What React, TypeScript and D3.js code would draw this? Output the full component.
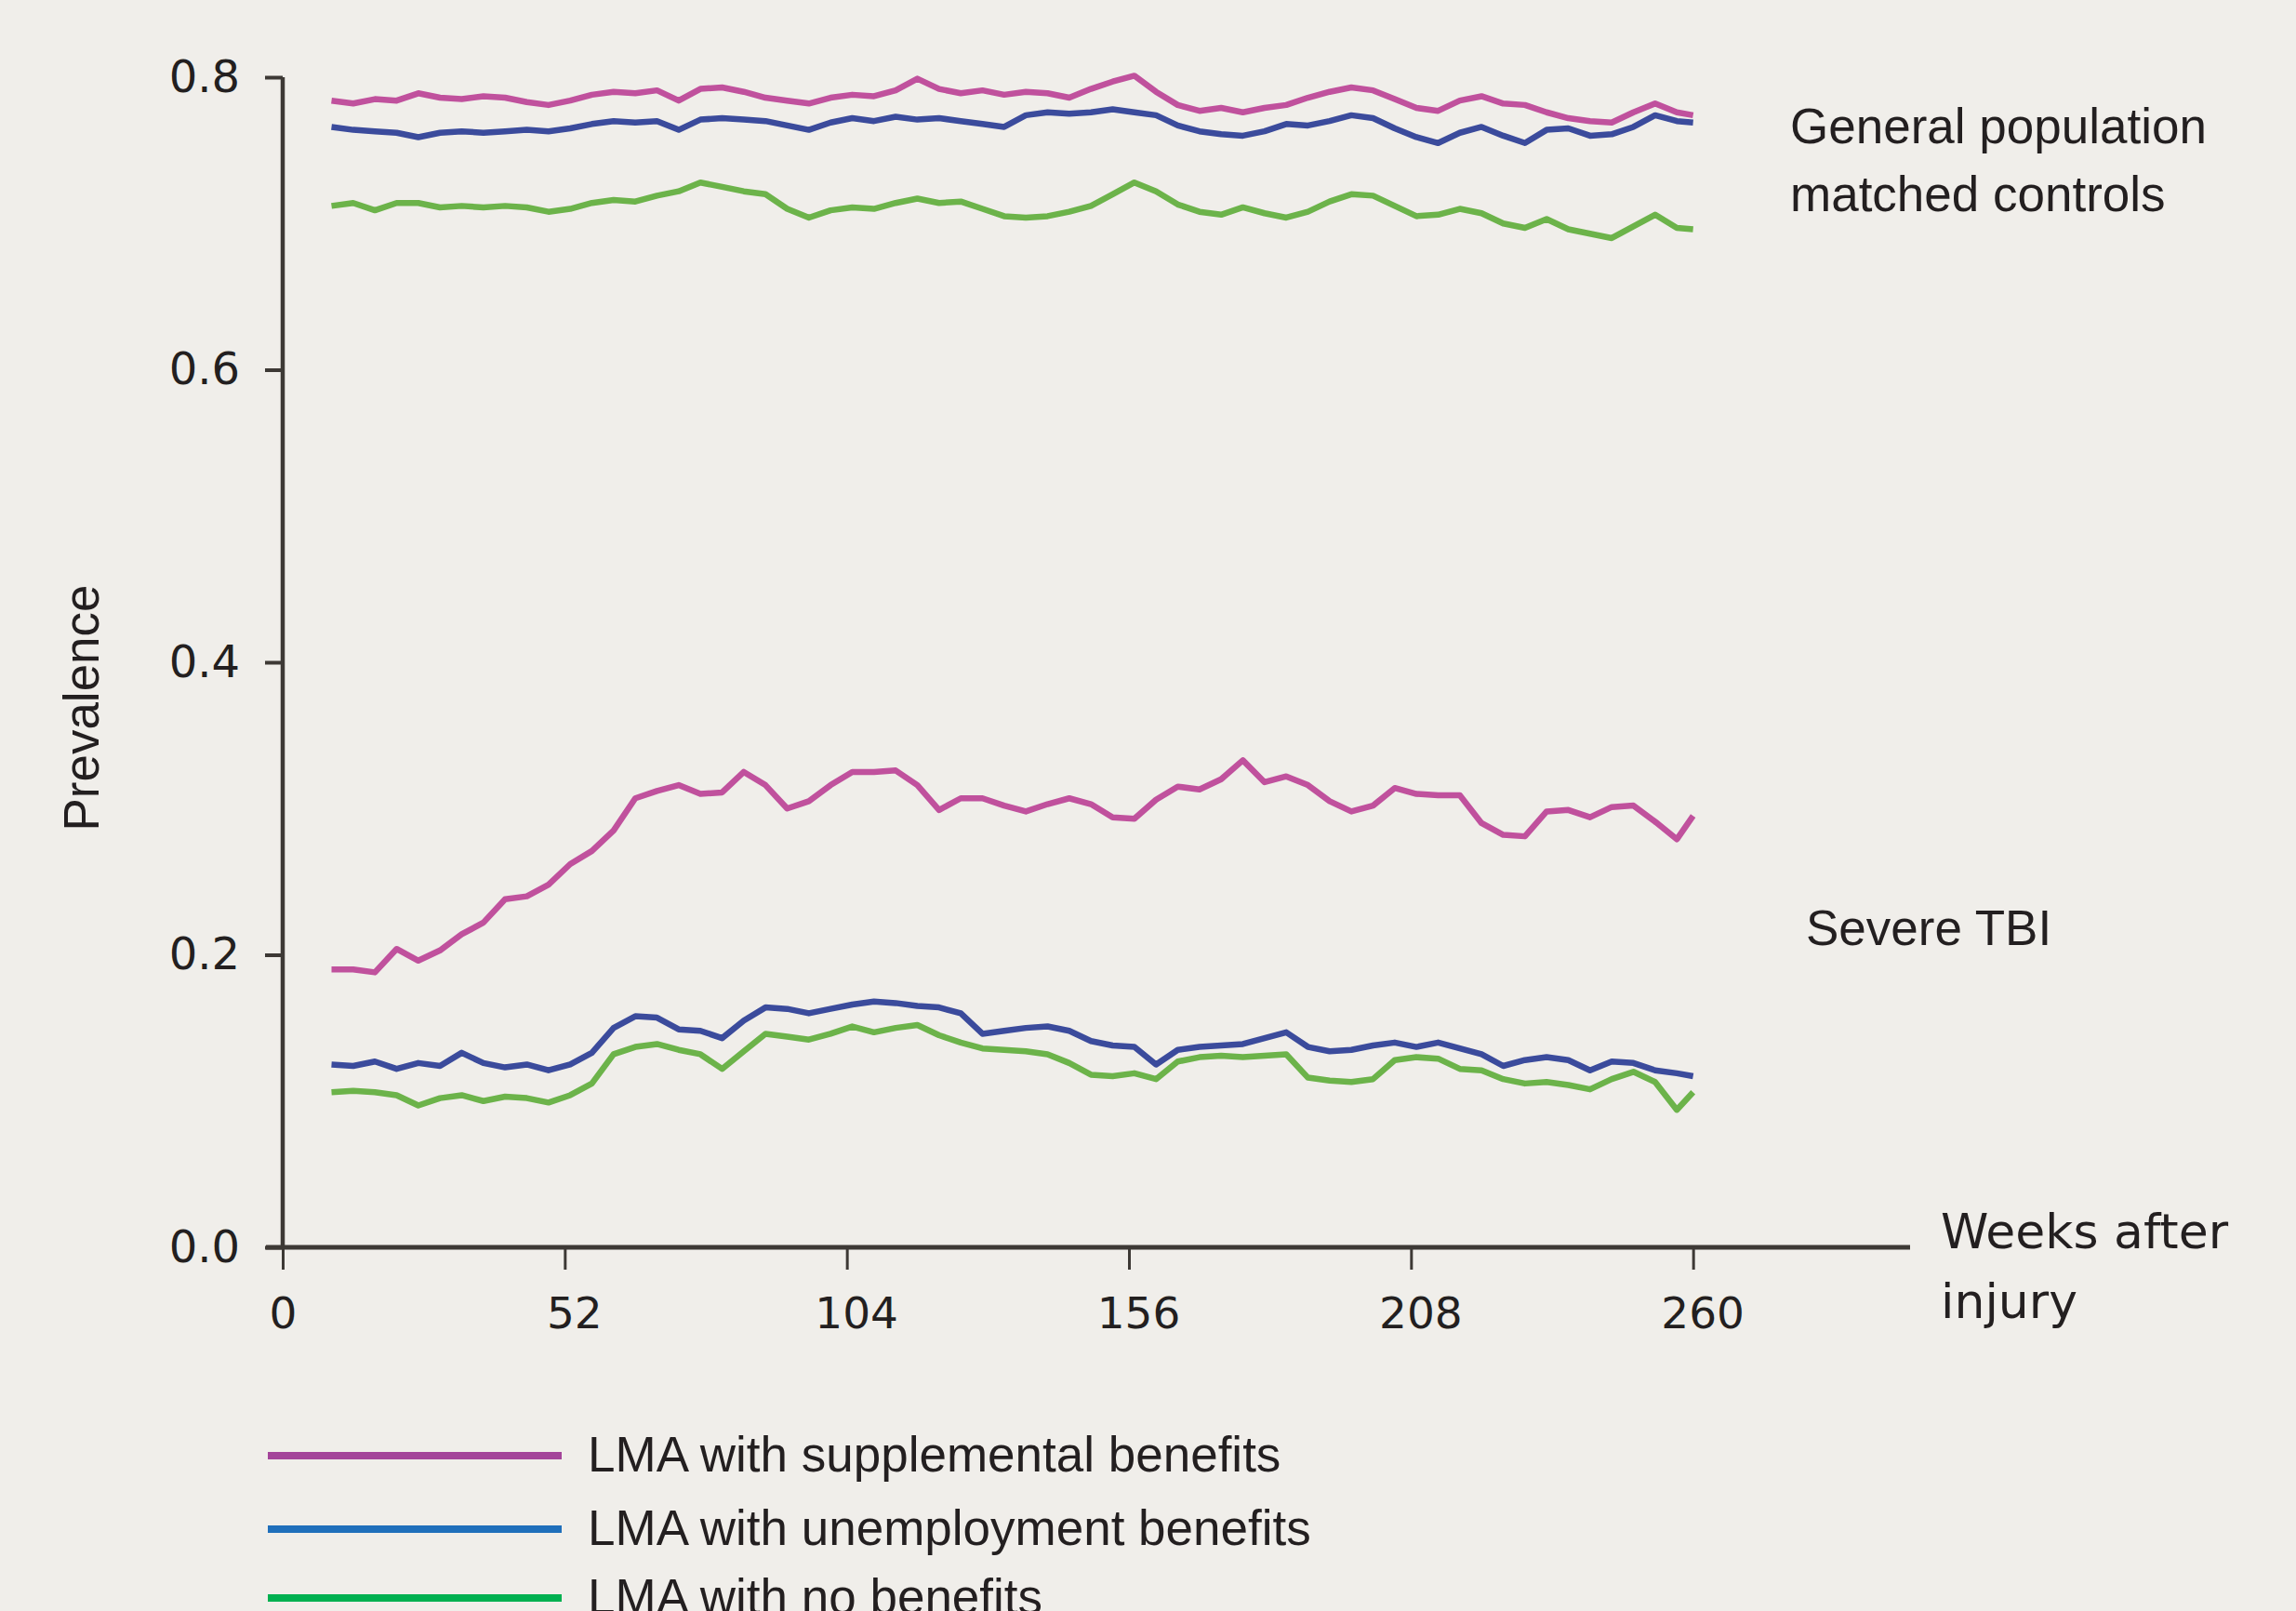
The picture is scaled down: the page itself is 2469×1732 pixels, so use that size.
import * as d3 from 'd3';
import { useEffect, useRef } from 'react';

// weeks after injury at which the curves were read
const weeks = [9, 13, 17, 21, 25, 29, 33, 37, 41, 45, 49, 53, 57, 61, 65, 69, 73, 77, 81, 85, 89, 93, 97, 101, 105, 109, 113, 117, 121, 125, 129, 133, 137, 141, 145, 149, 153, 157, 161, 165, 169, 173, 177, 181, 185, 189, 193, 197, 201, 205, 209, 213, 217, 221, 225, 229, 233, 237, 241, 245, 249, 253, 257, 260];

// general population matched controls
const genSupplemental = [0.784, 0.782, 0.785, 0.784, 0.789, 0.786, 0.785, 0.787, 0.786, 0.783, 0.781, 0.784, 0.788, 0.79, 0.789, 0.791, 0.784, 0.792, 0.793, 0.79, 0.786, 0.784, 0.782, 0.786, 0.788, 0.787, 0.791, 0.799, 0.792, 0.789, 0.791, 0.788, 0.79, 0.789, 0.786, 0.792, 0.797, 0.801, 0.79, 0.781, 0.777, 0.779, 0.776, 0.779, 0.781, 0.786, 0.79, 0.793, 0.791, 0.785, 0.779, 0.777, 0.784, 0.787, 0.782, 0.781, 0.776, 0.772, 0.77, 0.769, 0.776, 0.782, 0.776, 0.774];
const genUnemployment = [0.766, 0.764, 0.763, 0.762, 0.759, 0.762, 0.763, 0.762, 0.763, 0.764, 0.763, 0.765, 0.768, 0.77, 0.769, 0.77, 0.764, 0.771, 0.772, 0.771, 0.77, 0.767, 0.764, 0.769, 0.772, 0.77, 0.773, 0.771, 0.772, 0.77, 0.768, 0.766, 0.774, 0.776, 0.775, 0.776, 0.778, 0.776, 0.774, 0.767, 0.763, 0.761, 0.76, 0.763, 0.768, 0.767, 0.77, 0.774, 0.772, 0.765, 0.759, 0.755, 0.762, 0.766, 0.76, 0.755, 0.764, 0.765, 0.76, 0.761, 0.766, 0.774, 0.77, 0.769];
const genNone = [0.712, 0.714, 0.709, 0.714, 0.714, 0.711, 0.712, 0.711, 0.712, 0.711, 0.708, 0.71, 0.714, 0.716, 0.715, 0.719, 0.722, 0.728, 0.725, 0.722, 0.72, 0.71, 0.704, 0.709, 0.711, 0.71, 0.714, 0.717, 0.714, 0.715, 0.71, 0.705, 0.704, 0.705, 0.708, 0.712, 0.72, 0.728, 0.722, 0.713, 0.708, 0.706, 0.711, 0.707, 0.704, 0.708, 0.715, 0.72, 0.719, 0.712, 0.705, 0.706, 0.71, 0.707, 0.7, 0.697, 0.703, 0.696, 0.693, 0.69, 0.698, 0.706, 0.697, 0.696];

// severe TBI
const tbiSupplemental = [0.19, 0.19, 0.188, 0.204, 0.196, 0.203, 0.214, 0.222, 0.238, 0.24, 0.248, 0.262, 0.271, 0.285, 0.307, 0.312, 0.316, 0.31, 0.311, 0.325, 0.316, 0.3, 0.305, 0.316, 0.325, 0.325, 0.326, 0.316, 0.299, 0.307, 0.307, 0.302, 0.298, 0.303, 0.307, 0.303, 0.294, 0.293, 0.306, 0.315, 0.313, 0.32, 0.333, 0.318, 0.322, 0.316, 0.305, 0.298, 0.302, 0.314, 0.31, 0.309, 0.309, 0.29, 0.282, 0.281, 0.298, 0.299, 0.294, 0.301, 0.302, 0.291, 0.279, 0.295];
const tbiUnemployment = [0.125, 0.124, 0.127, 0.122, 0.126, 0.124, 0.133, 0.126, 0.123, 0.125, 0.121, 0.125, 0.133, 0.15, 0.158, 0.157, 0.149, 0.148, 0.143, 0.155, 0.164, 0.163, 0.16, 0.163, 0.166, 0.168, 0.167, 0.165, 0.164, 0.16, 0.146, 0.148, 0.15, 0.151, 0.148, 0.141, 0.138, 0.137, 0.125, 0.135, 0.137, 0.138, 0.139, 0.143, 0.147, 0.137, 0.134, 0.135, 0.138, 0.14, 0.137, 0.14, 0.136, 0.132, 0.124, 0.128, 0.13, 0.128, 0.121, 0.127, 0.126, 0.121, 0.119, 0.117];
const tbiNone = [0.106, 0.107, 0.106, 0.104, 0.097, 0.102, 0.104, 0.1, 0.103, 0.102, 0.099, 0.104, 0.112, 0.132, 0.137, 0.139, 0.135, 0.132, 0.122, 0.134, 0.146, 0.144, 0.142, 0.146, 0.151, 0.147, 0.15, 0.152, 0.145, 0.14, 0.136, 0.135, 0.134, 0.132, 0.126, 0.118, 0.117, 0.119, 0.115, 0.127, 0.13, 0.131, 0.13, 0.131, 0.132, 0.116, 0.114, 0.113, 0.115, 0.128, 0.13, 0.129, 0.122, 0.121, 0.115, 0.112, 0.113, 0.111, 0.108, 0.115, 0.12, 0.113, 0.094, 0.106];

const xTicks = [0, 52, 104, 156, 208, 260];
const yTicks = [0, 0.2, 0.4, 0.6, 0.8];
const legendLabels = ['LMA with supplemental benefits', 'LMA with unemployment benefits', 'LMA with no benefits'];

const lineColors = ['#c0519d', '#3b4b9c', '#6cb34a'];
const legendColors = ['#a4449a', '#1f6fbb', '#00b050'];

export default function App() {
  const ref = useRef(null);

  useEffect(() => {
    const width = 2469, height = 1732;
    const root = d3.select(ref.current);
    root.selectAll('*').remove();

    const svg = root.append('svg')
      .attr('width', width).attr('height', height)
      .style('position', 'absolute').style('left', 0).style('top', 0);

    svg.append('rect').attr('width', width).attr('height', height).attr('fill', '#f0eeea');

    const x = d3.scaleLinear().domain([0, 300]).range([304, 2054]);
    const y = d3.scaleLinear().domain([0, 0.8]).range([1341, 83]);
    const ink = '#231f20';
    const axisCol = '#3d3935';

    const line = d3.line<number>()
      .x((_, i) => x(weeks[i]))
      .y((d) => y(d));

    const series = [
      [genSupplemental, 0], [genUnemployment, 1], [genNone, 2],
      [tbiSupplemental, 0], [tbiUnemployment, 1], [tbiNone, 2],
    ] as [number[], number][];

    svg.append('g').selectAll('path').data(series).join('path')
      .attr('d', (d) => line(d[0]))
      .attr('fill', 'none')
      .attr('stroke', (d) => lineColors[d[1]])
      .attr('stroke-width', 6.5)
      .attr('stroke-linejoin', 'round');

    // axes
    const yAxis = svg.append('g')
      .attr('transform', `translate(${x(0)},0)`)
      .call(d3.axisLeft(y).tickValues(yTicks).tickFormat(d3.format('.1f')).tickSize(19).tickPadding(27));
    yAxis.select('.domain').remove();
    yAxis.selectAll('line').attr('stroke', axisCol).attr('stroke-width', 4);
    yAxis.selectAll('text')
      .attr('fill', ink)
      .style('font-family', '"DejaVu Sans", Verdana, sans-serif')
      .style('font-size', '48px');

    const xAxis = svg.append('g')
      .attr('transform', `translate(0,${y(0)})`)
      .call(d3.axisBottom(x).tickValues(xTicks).tickFormat(d3.format('d')).tickSize(24));
    xAxis.select('.domain').remove();
    xAxis.selectAll('line').attr('stroke', axisCol).attr('stroke-width', 3);
    xAxis.selectAll('text')
      .attr('fill', ink)
      .attr('y', 87).attr('dy', 0)
      .attr('dx', (d) => (d === 0 ? 0 : 10))
      .style('font-family', '"DejaVu Sans", Verdana, sans-serif')
      .style('font-size', '47px');

    svg.append('line')
      .attr('x1', x(0)).attr('x2', x(0)).attr('y1', y(0.8)).attr('y2', y(0) + 2)
      .attr('stroke', axisCol).attr('stroke-width', 4.5);
    svg.append('line')
      .attr('x1', 286).attr('x2', x(300)).attr('y1', y(0)).attr('y2', y(0))
      .attr('stroke', axisCol).attr('stroke-width', 5);

    // axis titles
    const sans = '"Liberation Sans", Arial, Helvetica, sans-serif';
    svg.append('text')
      .attr('transform', `translate(106,${761}) rotate(-90)`)
      .attr('text-anchor', 'middle')
      .attr('fill', ink).style('font-family', sans).style('font-size', '53px')
      .text('Prevalence');

    const wk = svg.append('text')
      .attr('fill', ink).style('font-family', '"DejaVu Sans", Verdana, sans-serif').style('font-size', '52px');
    wk.append('tspan').attr('x', 2087).attr('y', 1342).text('Weeks after');
    wk.append('tspan').attr('x', 2087).attr('y', 1417).text('injury');

    // group annotations
    const gen = svg.append('text').attr('fill', ink).style('font-family', sans).style('font-size', '53px');
    gen.append('tspan').attr('x', 1925).attr('y', 154).text('General population');
    gen.append('tspan').attr('x', 1925).attr('y', 227).text('matched controls');

    svg.append('text').attr('x', 1942).attr('y', 1016)
      .attr('fill', ink).style('font-family', sans).style('font-size', '53px')
      .text('Severe TBI');

    // legend
    const legendY = [1565, 1644, 1718];
    const lg = svg.append('g').selectAll('g').data(legendLabels).join('g');
    lg.append('line')
      .attr('x1', 288).attr('x2', 604)
      .attr('y1', (_, i) => legendY[i]).attr('y2', (_, i) => legendY[i])
      .attr('stroke', (_, i) => legendColors[i]).attr('stroke-width', 8);
    lg.append('text')
      .attr('x', 632).attr('y', (_, i) => legendY[i] + 17)
      .attr('fill', ink).style('font-family', sans).style('font-size', '53px')
      .text((d) => d);
  }, []);

  return <div ref={ref} />;
}
